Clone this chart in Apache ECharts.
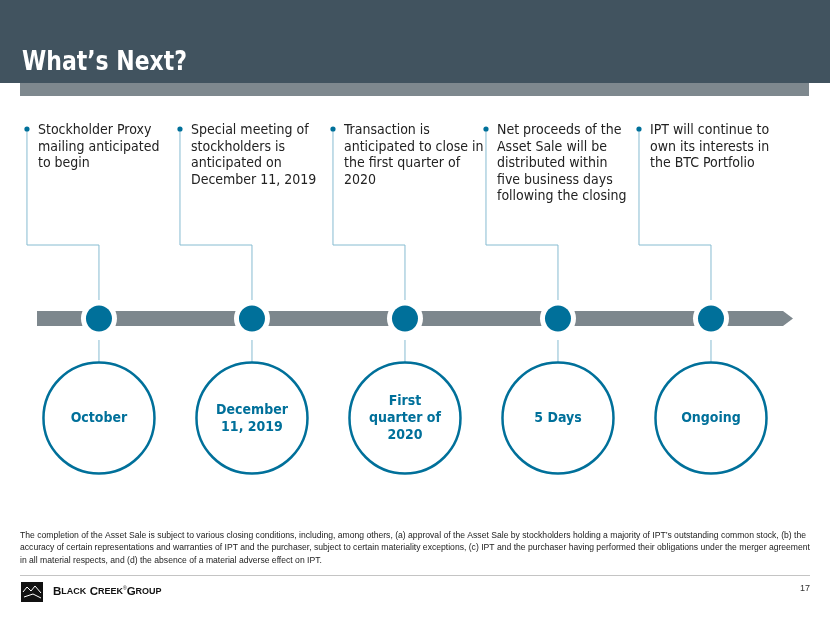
<!DOCTYPE html>
<html><head><meta charset="utf-8">
<script src="https://cdn.jsdelivr.net/npm/echarts@6/dist/echarts.min.js"></script>
<style>html,body{margin:0;padding:0;background:#fff}#c{width:830px;height:623px}</style>
</head><body><div id="c"></div>
<script>
const milestones = [0, 1, 2, 3, 4];
const topTexts = [
  ["Stockholder Proxy", "mailing anticipated", "to begin"],
  ["Special meeting of", "stockholders is", "anticipated on", "December 11, 2019"],
  ["Transaction is", "anticipated to close in", "the first quarter of", "2020"],
  ["Net proceeds of the", "Asset Sale will be", "distributed within", "five business days", "following the closing"],
  ["IPT will continue to", "own its interests in", "the BTC Portfolio"]
];
const circleLabels = ["October", "December\n11, 2019", "First\nquarter of\n2020", "5 Days", "Ongoing"];
const title = "What\u2019s Next?";
const footnote = [
  "The completion of the Asset Sale is subject to various closing conditions, including, among others, (a) approval of the Asset Sale by stockholders holding a majority of IPT\u2019s outstanding common stock, (b) the",
  "accuracy of certain representations and warranties of IPT and the purchaser, subject to certain materiality exceptions, (c) IPT and the purchaser having performed their obligations under the merger agreement",
  "in all material respects, and (d) the absence of a material adverse effect on IPT."
];
const pageNum = "17";

const TEAL = '#00709a', LIGHT = '#86bcd1', GRAY = '#7d878d', TXT = '#222222';
const BODY_FONT = '14px "DejaVu Sans Condensed", "DejaVu Sans"';
const LABEL_FONT = 'bold 14px "DejaVu Sans Condensed", "DejaVu Sans"';
const TITLE_FONT = 'bold 27px "DejaVu Sans Condensed", "DejaVu Sans"';
const FOOT_FONT = '9.5px "Liberation Sans"';

// horizontal squeeze so the footnote / title fit the reference widths (narrower faces there)
const mctx = document.createElement('canvas').getContext('2d');
mctx.font = FOOT_FONT;
const footScale = 786 / mctx.measureText(footnote[0]).width;
mctx.font = TITLE_FONT;
const titleScale = 165 / mctx.measureText(title).width;

const chart = echarts.init(document.getElementById('c'));

function barItem(params, api) {
  const cs = params.coordSys;
  const yc = 318.5, h = 15;
  const x0 = cs.x, x1 = cs.x + cs.width;
  return {
    type: 'polygon',
    shape: { points: [[x0, yc - h/2], [x1 - 10, yc - h/2], [x1, yc], [x1 - 10, yc + h/2], [x0, yc + h/2]] },
    style: { fill: GRAY }
  };
}

function milestoneItem(params, api) {
  const i = api.value(0);
  const cx = api.coord([i, 0])[0];
  const bx = cx - 72;
  const yc = 318.5;
  const bigY = 418;
  const children = [];
  children.push({ type: 'polyline', shape: { points: [[bx, 129], [bx, 245], [cx, 245], [cx, 300]] },
    style: { stroke: LIGHT, lineWidth: 1, fill: null } });
  children.push({ type: 'circle', shape: { cx: bx, cy: 129, r: 2.6 }, style: { fill: TEAL } });
  children.push({ type: 'text', style: { text: topTexts[i].join('\n'), x: bx + 11, y: 122.5,
    font: BODY_FONT, lineHeight: 16.5, fill: TXT, align: 'left', verticalAlign: 'top' } });
  children.push({ type: 'circle', shape: { cx: cx, cy: yc, r: 18 }, style: { fill: '#ffffff' } });
  children.push({ type: 'circle', shape: { cx: cx, cy: yc, r: 13 }, style: { fill: TEAL } });
  children.push({ type: 'line', shape: { x1: cx, y1: 340, x2: cx, y2: 362 }, style: { stroke: LIGHT, lineWidth: 1 } });
  children.push({ type: 'circle', shape: { cx: cx, cy: bigY, r: 55.5 }, style: { fill: '#fff', stroke: TEAL, lineWidth: 2.5 } });
  children.push({ type: 'text', style: { text: circleLabels[i], x: cx, y: bigY + 0.5, font: LABEL_FONT,
    lineHeight: 17, fill: TEAL, align: 'center', verticalAlign: 'middle' } });
  return { type: 'group', children: children };
}

const option = {
  animation: false,
  grid: { left: 37, right: 37, top: 0, bottom: 0 },
  xAxis: { type: 'value', min: -0.405, max: 4.536, show: false },
  yAxis: { type: 'value', min: 0, max: 1, show: false },
  graphic: [
    { type: 'rect', shape: { x: 0, y: 0, width: 830, height: 83 }, style: { fill: '#41535f' } },
    { type: 'rect', shape: { x: 20, y: 83, width: 789, height: 13 }, style: { fill: '#7e888e' } },
    { type: 'text', x: 22, y: 63, scaleX: titleScale, originX: 0, style: { text: title, font: TITLE_FONT, fill: '#ffffff', verticalAlign: 'middle' } },
    { type: 'text', x: 20, y: 529, scaleX: footScale, originX: 0, style: { text: footnote.join('\n'), font: FOOT_FONT, lineHeight: 12.5, fill: TXT, verticalAlign: 'top' } },
    { type: 'line', shape: { x1: 20, y1: 575.5, x2: 810, y2: 575.5 }, style: { stroke: '#c4c4c4', lineWidth: 1 } },
    { type: 'rect', shape: { x: 21, y: 582, width: 22, height: 20 }, style: { fill: '#111' } },
    { type: 'polyline', shape: { points: [[23, 592], [27, 587], [31, 591], [35, 586], [41, 593]] }, style: { stroke: '#fff', lineWidth: 1, fill: null } },
    { type: 'polyline', shape: { points: [[24, 597], [33, 594], [41, 598]] }, style: { stroke: '#fff', lineWidth: 1, fill: null } },
    { type: 'text', x: 53, y: 592, style: { text: '{a|B}{b|LACK} {a|C}{b|REEK}{s|\u00ae}{a|G}{b|ROUP}', verticalAlign: 'middle',
      rich: { a: { font: 'bold 11.5px "Liberation Sans"', fill: '#111' }, b: { font: 'bold 9px "Liberation Sans"', fill: '#111' }, s: { font: '5px "Liberation Sans"', fill: '#111', verticalAlign: 'top' } } } },
    { type: 'text', x: 810, y: 589, style: { text: pageNum, font: '9px "Liberation Sans"', fill: '#333', align: 'right', verticalAlign: 'middle' } }
  ],
  series: [
    { type: 'custom', data: [[0, 0]], renderItem: barItem, silent: true, z: 1 },
    { type: 'custom', data: milestones.map(m => [m, 0]), renderItem: milestoneItem, silent: true, z: 2 }
  ]
};
chart.setOption(option);
</script></body></html>
